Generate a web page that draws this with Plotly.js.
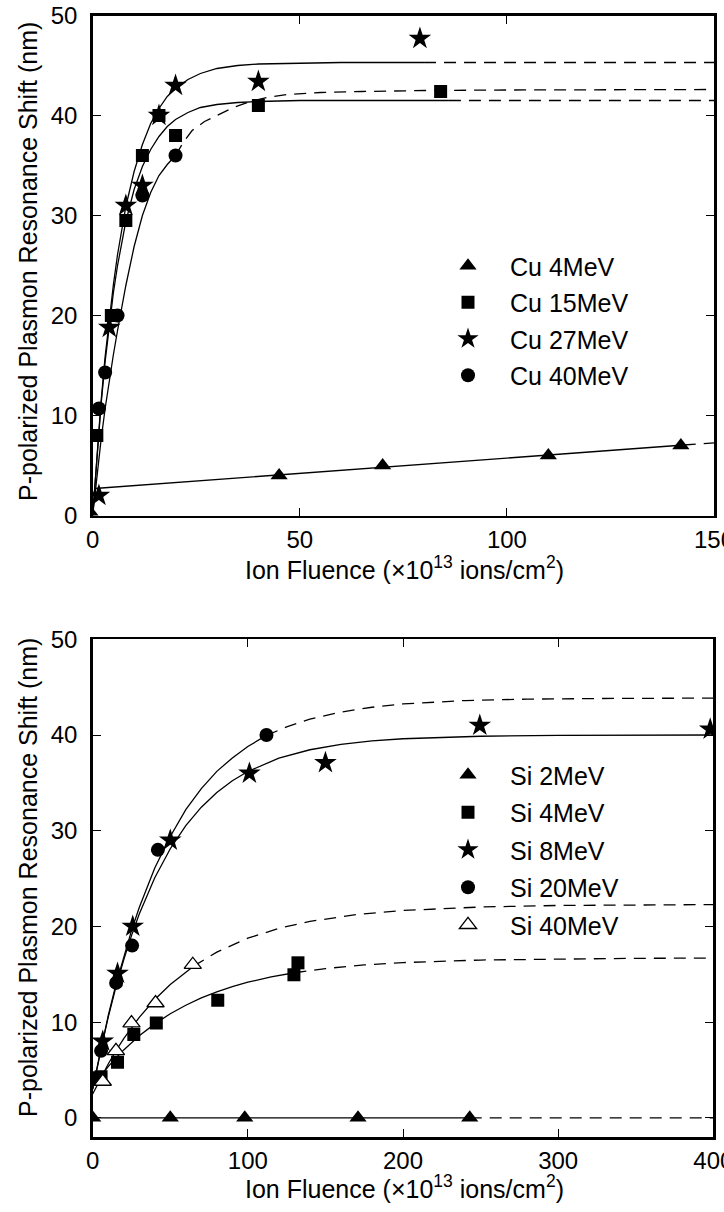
<!DOCTYPE html>
<html>
<head>
<meta charset="utf-8">
<script src="https://cdn.plot.ly/plotly-3.0.1.min.js"></script>
<style>
  html, body { margin: 0; padding: 0; background: #fff; }
  #chart { width: 724px; height: 1212px; }
</style>
</head>
<body>
<div id="chart"></div>
<script>
// ---- Upper panel: Cu ions (fluence in 1e13 ions/cm^2, shift in nm) ----
const cu4X = [0, 45, 70, 110, 142];
const cu4Y = [0, 4, 5, 6, 7];
const cu15X = [1, 4.5, 8, 12, 16, 20, 40, 84];
const cu15Y = [8, 20, 29.5, 36, 40, 38, 41, 42.4];
const cu27X = [1.5, 4, 8, 12, 16, 20, 40, 79];
const cu27Y = [2, 18.8, 31, 33, 40, 43, 43.4, 47.7];
const cu40X = [1.5, 3, 6, 12, 20];
const cu40Y = [10.7, 14.3, 20, 32, 36];

// fitted curves (solid over the measured range, dashed extrapolation)
const cu4FitX = [0.5, 142.7];
const cu4FitY = [2.7, 7.05];
const cu4ExtX = [142.7, 150];
const cu4ExtY = [7.05, 7.27];
const cu15FitX = [0, 1, 2, 3, 4, 5, 6, 7, 8, 10, 12, 14, 16, 18, 20, 23, 26, 30, 35, 40, 50, 60, 86];
const cu15FitY = [0, 5.9, 11.0, 15.4, 19.1, 22.3, 25.0, 27.4, 29.4, 32.6, 34.9, 36.6, 37.9, 38.9, 39.6, 40.3, 40.8, 41.1, 41.3, 41.4, 41.5, 41.5, 41.5];
const cu15ExtX = [86, 150];
const cu15ExtY = [41.5, 41.5];
const cu27FitX = [0, 1, 2, 3, 4, 5, 6, 7, 8, 10, 12, 14, 16, 18, 20, 23, 26, 30, 35, 40, 50, 60, 80];
const cu27FitY = [0, 6.0, 11.3, 15.9, 19.7, 23.1, 26.1, 28.6, 30.9, 34.4, 37.1, 39.2, 40.7, 41.9, 42.7, 43.6, 44.2, 44.7, 45.0, 45.15, 45.25, 45.3, 45.3];
const cu27ExtX = [80, 150];
const cu27ExtY = [45.3, 45.3];
const cu40FitX = [0, 1, 2, 3, 4, 5, 6, 7, 8, 10, 12, 14, 16, 18, 20];
const cu40FitY = [0, 3.9, 7.5, 10.7, 13.5, 16.1, 18.5, 20.8, 23.0, 26.9, 30.0, 32.3, 34.0, 35.1, 36.0];
const cu40ExtX = [20, 22, 24, 27, 30, 34, 38, 42, 47, 55, 65, 80, 100, 150];
const cu40ExtY = [36, 37.4, 38.5, 39.4, 40.0, 40.8, 41.4, 41.8, 42.1, 42.3, 42.4, 42.5, 42.55, 42.6];

// ---- Lower panel: Si ions ----
const si2X = [0, 50, 98, 171, 243];
const si2Y = [0, 0, 0, 0, 0];
const si4X = [3, 5.4, 16, 26.5, 41, 80.6, 129.7, 132.3];
const si4Y = [4.2, 4.3, 5.8, 8.7, 9.9, 12.3, 14.95, 16.2];
const si8X = [6.5, 16, 25.8, 50, 101, 150, 249.5, 398];
const si8Y = [8, 15.1, 20, 29, 36, 37.1, 41, 40.6];
const si20X = [5.4, 15.1, 25.4, 42, 112];
const si20Y = [7, 14.1, 18, 28, 40];
const si40X = [6.5, 15, 25, 40.5, 64.5];
const si40Y = [3.8, 7, 9.9, 12, 16];

const si2FitX = [0, 243];
const si2FitY = [0, 0];
const si2ExtX = [243, 400];
const si2ExtY = [0, 0];
const si4FitX = [0, 5, 10, 15, 20, 30, 40, 50, 60, 70, 80, 90, 100, 115, 130];
const si4FitY = [3.3, 4.37, 5.36, 6.26, 7.1, 8.57, 9.82, 10.88, 11.77, 12.53, 13.17, 13.71, 14.17, 14.73, 15.16];
const si4ExtX = [130, 150, 175, 200, 250, 300, 350, 400];
const si4ExtY = [15.16, 15.6, 15.98, 16.22, 16.49, 16.61, 16.67, 16.69];
const si8FitX = [0, 5, 10, 15, 20, 25, 30, 40, 50, 60, 70, 80, 90, 100, 120, 140, 160, 180, 200, 250, 300, 400];
const si8FitY = [3, 6.97, 10.52, 13.69, 16.51, 19.04, 21.29, 25.09, 28.12, 30.54, 32.46, 33.99, 35.22, 36.19, 37.58, 38.46, 39.03, 39.38, 39.61, 39.87, 39.96, 40.0];
const si20FitX = [0, 5, 10, 15, 20, 25, 30, 40, 50, 60, 70, 80, 90, 100, 112];
const si20FitY = [3, 7.03, 10.67, 13.95, 16.9, 19.56, 21.97, 26.1, 29.4, 32.2, 34.4, 36.2, 37.6, 38.8, 39.96];
const si20ExtX = [112, 125, 140, 160, 180, 200, 240, 280, 340, 400];
const si20ExtY = [39.96, 40.85, 41.65, 42.4, 42.9, 43.25, 43.6, 43.75, 43.83, 43.85];
const si40FitX = [0, 5, 10, 15, 20, 30, 40, 50, 65];
const si40FitY = [2.5, 4.14, 5.63, 7.01, 8.27, 10.5, 12.36, 13.94, 15.85];
const si40ExtX = [65, 80, 100, 120, 140, 170, 200, 250, 300, 350, 400];
const si40ExtY = [15.85, 17.32, 18.77, 19.8, 20.53, 21.24, 21.67, 22.03, 22.19, 22.25, 22.28];

const FONT = 'Liberation Sans, Arial, sans-serif';
const DASH = '12px,8px';

function curve(x, y, xa, ya, dashed) {
  return {
    x: x, y: y, xaxis: xa, yaxis: ya, type: 'scatter', mode: 'lines',
    line: { color: '#000', width: 1.3, dash: dashed ? DASH : 'solid' },
    showlegend: false, hoverinfo: 'skip'
  };
}
function pts(name, x, y, xa, ya, symbol, size, legend, open) {
  return {
    name: name, x: x, y: y, xaxis: xa, yaxis: ya, type: 'scatter', mode: 'markers',
    legend: legend, legendgroup: name,
    marker: {
      symbol: symbol, size: size, color: open ? '#fff' : '#000',
      line: { color: '#000', width: open ? 1.3 : 0 }
    }
  };
}

const traces = [
  curve(cu4FitX, cu4FitY, 'x', 'y', false), curve(cu4ExtX, cu4ExtY, 'x', 'y', true),
  curve(cu15FitX, cu15FitY, 'x', 'y', false), curve(cu15ExtX, cu15ExtY, 'x', 'y', true),
  curve(cu27FitX, cu27FitY, 'x', 'y', false), curve(cu27ExtX, cu27ExtY, 'x', 'y', true),
  curve(cu40FitX, cu40FitY, 'x', 'y', false), curve(cu40ExtX, cu40ExtY, 'x', 'y', true),
  pts('Cu 4MeV', cu4X, cu4Y, 'x', 'y', 'triangle-up', 15, 'legend'),
  pts('Cu 15MeV', cu15X, cu15Y, 'x', 'y', 'square', 13, 'legend'),
  pts('Cu 27MeV', cu27X, cu27Y, 'x', 'y', 'star', 17, 'legend'),
  pts('Cu 40MeV', cu40X, cu40Y, 'x', 'y', 'circle', 14, 'legend'),

  curve(si2FitX, si2FitY, 'x2', 'y2', false), curve(si2ExtX, si2ExtY, 'x2', 'y2', true),
  curve(si4FitX, si4FitY, 'x2', 'y2', false), curve(si4ExtX, si4ExtY, 'x2', 'y2', true),
  curve(si8FitX, si8FitY, 'x2', 'y2', false),
  curve(si20FitX, si20FitY, 'x2', 'y2', false), curve(si20ExtX, si20ExtY, 'x2', 'y2', true),
  curve(si40FitX, si40FitY, 'x2', 'y2', false), curve(si40ExtX, si40ExtY, 'x2', 'y2', true),
  pts('Si 2MeV', si2X, si2Y, 'x2', 'y2', 'triangle-up', 15, 'legend2'),
  pts('Si 4MeV', si4X, si4Y, 'x2', 'y2', 'square', 13, 'legend2'),
  pts('Si 8MeV', si8X, si8Y, 'x2', 'y2', 'star', 17, 'legend2'),
  pts('Si 20MeV', si20X, si20Y, 'x2', 'y2', 'circle', 14, 'legend2'),
  pts('Si 40MeV', si40X, si40Y, 'x2', 'y2', 'triangle-up', 15, 'legend2', true)
];

function axis(extra) {
  return Object.assign({
    showline: true, linecolor: '#000', linewidth: 2.5, mirror: 'allticks',
    ticks: 'inside', ticklen: 8, tickwidth: 1, tickcolor: '#000',
    showgrid: false, zeroline: false, fixedrange: true,
    tickfont: { family: FONT, size: 24, color: '#000' },
    ticklabeloverflow: 'allow'
  }, extra);
}

const W = 724, H = 1212;
const legendBase = {
  font: { family: FONT, size: 25, color: '#000' },
  bgcolor: 'rgba(0,0,0,0)', borderwidth: 0,
  itemwidth: 74, xanchor: 'left', yanchor: 'top'
};

const titleFont = { family: FONT, size: 25, color: '#000' };
const xTitle = 'Ion Fluence (\u00d710<sup>13</sup> ions/cm<sup>2</sup>)';
const yTitle = 'P-polarized Plasmon Resonance Shift (nm)';

const layout = {
  width: W, height: H,
  margin: { l: 0, r: 0, t: 0, b: 0 },
  paper_bgcolor: '#fff', plot_bgcolor: '#fff',
  showlegend: true,
  xaxis: axis({ domain: [92.7 / W, 714 / W], range: [0, 150], tickvals: [0, 50, 100, 150], anchor: 'y', ticklabelstandoff: 1 }),
  yaxis: axis({ domain: [1 - 515.5 / H, 1 - 15.5 / H], range: [0, 50], tickvals: [0, 10, 20, 30, 40, 50], anchor: 'x', ticklabelstandoff: 8 }),
  xaxis2: axis({ domain: [92.7 / W, 713.3 / W], range: [0, 400], tickvals: [0, 100, 200, 300, 400], anchor: 'y2', ticklabelstandoff: 1 }),
  yaxis2: axis({ domain: [1 - 1137 / H, 1 - 639.3 / H], range: [-2, 50], tickvals: [0, 10, 20, 30, 40, 50], anchor: 'x2', ticklabelstandoff: 8 }),
  legend: Object.assign({}, legendBase, { x: 426 / W, y: 1 - 243 / H, tracegroupgap: 1 }),
  legend2: Object.assign({}, legendBase, { x: 426 / W, y: 1 - 752 / H, tracegroupgap: 2 }),
  annotations: [
    { text: xTitle, xref: 'paper', yref: 'paper', x: 404 / W, y: 1 - 568 / H, showarrow: false, font: titleFont, xanchor: 'center', yanchor: 'middle' },
    { text: xTitle, xref: 'paper', yref: 'paper', x: 404 / W, y: 1 - 1187 / H, showarrow: false, font: titleFont, xanchor: 'center', yanchor: 'middle' },
    { text: yTitle, xref: 'paper', yref: 'paper', x: 28 / W, y: 1 - 262 / H, showarrow: false, font: titleFont, textangle: -90, xanchor: 'center', yanchor: 'middle' },
    { text: yTitle, xref: 'paper', yref: 'paper', x: 28 / W, y: 1 - 878 / H, showarrow: false, font: titleFont, textangle: -90, xanchor: 'center', yanchor: 'middle' }
  ]
};

Plotly.newPlot('chart', traces, layout, { staticPlot: true, displayModeBar: false });
</script>
</body>
</html>
